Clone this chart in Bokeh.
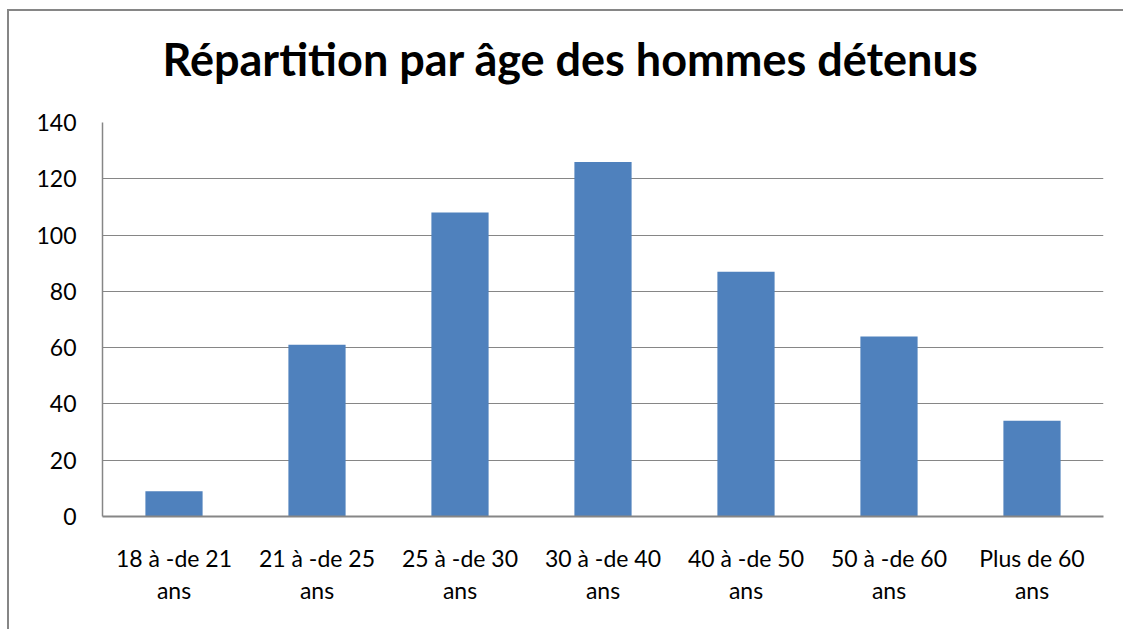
from bokeh.plotting import figure
from bokeh.models import FactorRange, FixedTicker, Title, CategoricalAxis, CustomJSTickFormatter
from bokeh.embed import file_html
from bokeh.resources import INLINE

categories = ["18 à -de 21 ans", "21 à -de 25 ans", "25 à -de 30 ans", "30 à -de 40 ans",
              "40 à -de 50 ans", "50 à -de 60 ans", "Plus de 60 ans"]
label_line1 = ["18 à -de 21", "21 à -de 25", "25 à -de 30", "30 à -de 40",
               "40 à -de 50", "50 à -de 60", "Plus de 60"]
label_line2 = ["ans", "ans", "ans", "ans", "ans", "ans", "ans"]
values = [9, 61, 108, 126, 87, 64, 34]
y_ticks = [0, 20, 40, 60, 80, 100, 120, 140]
title_text = "Répartition par âge des hommes détenus"

FONT = "Lato"
GRAY = "#868686"

p = figure(x_range=FactorRange(factors=categories), y_range=(0, 140),
           frame_width=1001, frame_height=394,
           min_border_left=93, min_border_right=20, min_border_top=111, min_border_bottom=113,
           output_backend="svg", toolbar_location=None)
p.styles = {"border-left": f"2px solid {GRAY}", "border-top": f"2px solid {GRAY}",
            "margin-left": "7px", "margin-top": "9px"}

p.vbar(x=categories, top=values, width=0.4, color="#4F81BD", line_color=None)

p.outline_line_color = None
p.xgrid.visible = False
p.ygrid.grid_line_color = GRAY
p.ygrid.grid_line_width = 1

p.yaxis.ticker = FixedTicker(ticks=y_ticks)
p.yaxis.axis_line_color = GRAY
p.yaxis.axis_line_width = 1.5
p.yaxis.major_tick_out = 0
p.yaxis.major_tick_in = 0
p.yaxis.minor_tick_out = 0
p.yaxis.minor_tick_in = 0
p.yaxis.major_label_standoff = 26
p.yaxis.major_label_text_font = FONT
p.yaxis.major_label_text_font_size = "23px"
p.yaxis.major_label_text_color = "#000000"

fmt_code = "return (tick in m) ? m[tick] : tick;"

xa = p.xaxis[0]
xa.axis_line_color = GRAY
xa.axis_line_width = 2
xa.major_tick_out = 0
xa.major_tick_in = 0
xa.major_label_standoff = 27
xa.formatter = CustomJSTickFormatter(args=dict(m=dict(zip(categories, label_line1))), code=fmt_code)
xa.major_label_text_font = FONT
xa.major_label_text_font_size = "23px"
xa.major_label_text_color = "#000000"

xa2 = CategoricalAxis(axis_line_color=None, major_tick_out=0, major_tick_in=0,
                      major_label_standoff=1,
                      formatter=CustomJSTickFormatter(args=dict(m=dict(zip(categories, label_line2))),
                                                      code=fmt_code),
                      major_label_text_font=FONT, major_label_text_font_size="23px",
                      major_label_text_color="#000000")
p.add_layout(xa2, "below")

spacer = Title(text=" ", standoff=34, text_font_size="1px")
p.add_layout(spacer, "above")
t = Title(text=title_text, align="left", offset=60, standoff=0,
          text_font=FONT, text_font_size="45px", text_font_style="bold", text_color="#000000")
p.add_layout(t, "above")

open("out.html", "w").write(file_html(p, INLINE))
